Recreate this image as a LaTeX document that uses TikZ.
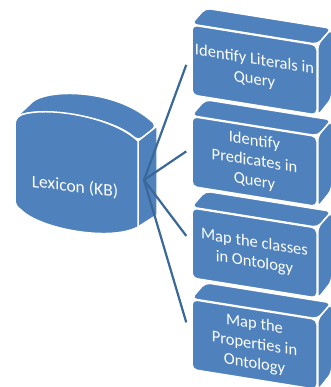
\documentclass[tikz,border=0pt]{standalone}
\usepackage{fontspec}
\newfontfamily\boxfont{Carlito}
\usepackage{xcolor}
\definecolor{Office Blue}{HTML}{4F81BD}
\definecolor{Steel Blue}{HTML}{3A6898}
\colorlet{cFace}{Office Blue}
\colorlet{cLink}{Steel Blue}
\usepackage{tikz}
\usetikzlibrary{calc, positioning, backgrounds}
\tikzset{
	node distance = 20pt,
	face/.style={
		fill=cFace,
		draw=white,
		line width=1.5pt,
		rounded corners=5pt
	},
	task/.style={
		face,
		yslant=-.16,
		minimum width=125pt,
		minimum height=70pt,
		inner sep=1pt,
		align=center,
		text=white,
		font=\boxfont\fontsize{16.5}{20}\selectfont
	},
	link/.style={
		draw=cLink,
		line width=2.2pt
	}
}

\begin{document}
\begin{tikzpicture}[x=1pt, y=1pt]
\clip (0,0) rectangle (330,387);

% ---
% Lexicon drum
% ---
\path[face] (15,269) .. controls (35,280) and (110,272) .. (138,246) -- (157,261)
	.. controls (115,300) and (45,298) .. (28,281) -- cycle;
\path[face, rounded corners=0pt] (138,246) -- (157,261) -- (157,172) -- (138,160) -- cycle;
\path[face, rounded corners=0pt] (15,262) .. controls (15,267) and (17,270) .. (21,272)
	.. controls (45,281) and (112,271) .. (138,246) -- (138,160)
	.. controls (110,145) and (40,158) .. (21,177)
	.. controls (17,180) and (15,182) .. (15,188) -- cycle;
\node[text=white, yslant=-.12, font=\boxfont\fontsize{17.5}{21}\selectfont] (kb) at (75,200) {Lexicon (KB)};
\coordinate (hub) at (144,207);

% ---
% Steps
% ---
\node[task] (task1) at (254.5,317) {Identify Literals in\\Query};
\node[task, below=of task1] (task2) {Identify\\Predicates in\\Query};
\node[task, below=of task2] (task3) {Map the classes\\in Ontology};
\node[task, below=of task3] (task4) {Map the\\Properties in\\Ontology};

\begin{scope}[on background layer]
\foreach \i in {1,...,4} {
	\path[face] (task\i.north west) -- ++(14,16) -- ($(task\i.north east)+(14,16)$) -- (task\i.north east) -- cycle;
	\path[face] (task\i.north east) -- ++(14,16) -- ++(0,-70) -- (task\i.south east) -- cycle;
}
\end{scope}

% ---
% Links
% ---
\foreach \i/\dy in {1/-5,2/0,3/7,4/12} {
	\draw[link] (hub) -- ([shift={(-5,\dy)}]task\i.west);
}
\end{tikzpicture}
\end{document}
